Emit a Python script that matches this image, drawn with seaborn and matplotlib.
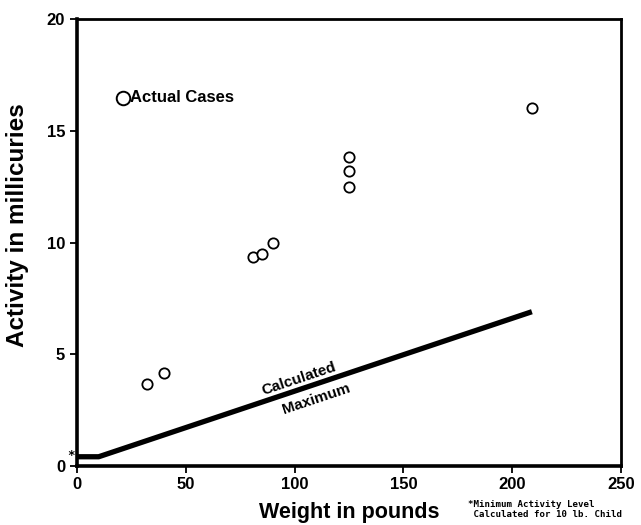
import matplotlib
matplotlib.use("Agg")
import matplotlib.pyplot as plt
import seaborn as sns
import pandas as pd

# observed cases
weight = [32, 40, 81, 85, 90, 125, 125, 125, 209]
activity = [3.65, 4.15, 9.35, 9.5, 10.0, 13.85, 13.2, 12.5, 16.05]

# calculated maximum curve
max_weight = [0, 10, 209]
max_activity = [0.4, 0.4, 6.9]

xticks = [0, 50, 100, 150, 200, 250]
yticks = [0, 5, 10, 15, 20]

sns.set_style("ticks")
plt.rcParams["font.family"] = ["Liberation Sans", "DejaVu Sans"]
plt.rcParams["font.weight"] = "bold"
for key in ["text.color", "axes.labelcolor", "xtick.color", "ytick.color", "axes.edgecolor"]:
    plt.rcParams[key] = "black"

df = pd.DataFrame({"Weight": weight, "Activity": activity})
dm = pd.DataFrame({"Weight": max_weight, "Activity": max_activity})

fig = plt.figure(figsize=(6.41, 5.25), dpi=100)
ax = fig.add_axes([0.120, 0.113, 0.849, 0.850])

sns.lineplot(x="Weight", y="Activity", data=dm, sort=False, color="black",
             linewidth=3.8, ax=ax, solid_capstyle="butt")
sns.scatterplot(x="Weight", y="Activity", data=df, marker="o", s=55,
                facecolor="white", edgecolor="black", linewidth=1.3, ax=ax, zorder=3)

# legend-like label
ax.scatter([21.2], [16.5], s=95, facecolor="white", edgecolor="black", linewidth=1.4, zorder=3)
ax.text(24.6, 16.5, "Actual Cases", fontsize=12, fontweight="bold", va="center", ha="left")

# line annotations
ax.text(102, 3.9, "Calculated", fontsize=11, fontweight="bold", rotation=18.5,
        ha="center", va="center", rotation_mode="anchor")
ax.text(110, 2.98, "Maximum", fontsize=11, fontweight="bold", rotation=18.5,
        ha="center", va="center", rotation_mode="anchor")
ax.text(-1.2, 0.45, "*", fontsize=9, ha="right", va="center", family="DejaVu Sans Mono")

ax.set_xlim(0, 250)
ax.set_ylim(0, 20)
ax.set_xticks(xticks)
ax.set_yticks(yticks)
ax.tick_params(axis="both", labelsize=12, width=1.3, length=5, direction="out")
for lab in ax.get_xticklabels() + ax.get_yticklabels():
    lab.set_fontweight("bold")

for side in ["left", "bottom"]:
    ax.spines[side].set_linewidth(2.6)
for side in ["top", "right"]:
    ax.spines[side].set_visible(True)
    ax.spines[side].set_linewidth(2.0)

ax.set_xlabel("Weight in pounds", fontsize=15.5, fontweight="bold")
ax.xaxis.set_label_coords(0.5, -0.082)
ax.set_ylabel("Activity in millicuries", fontsize=17.5, fontweight="bold")
ax.yaxis.set_label_coords(-0.088, 0.54)

fig.text(0.730, 0.012, "*Minimum Activity Level\n Calculated for 10 lb. Child",
         fontsize=6.6, family="DejaVu Sans Mono", ha="left", va="bottom", linespacing=1.15)

fig.savefig("out.png", dpi=100)
